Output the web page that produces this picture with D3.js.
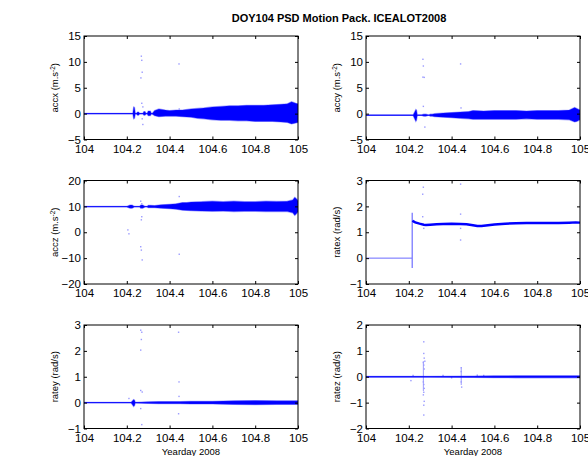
<!DOCTYPE html>
<html><head><meta charset="utf-8">
<script src="https://cdn.jsdelivr.net/npm/d3@7"></script>
<style>body{margin:0;background:#fff}svg{display:block;background:#fff}text{font-family:"Liberation Sans",Arial,sans-serif}</style>
</head><body><svg id="c" width="588" height="456"></svg>
<script>
// ---- data ----
const titleText = "DOY104 PSD Motion Pack. ICEALOT2008";
const xLabelText = "Yearday 2008";
const xTicks = [104, 104.2, 104.4, 104.6, 104.8, 105];
const xTickLabels = ["104", "104.2", "104.4", "104.6", "104.8", "105"];

// accx
const accxBase = 0;
const accxDay = [104.00,104.10,104.20,104.228,104.232,104.236,104.24,104.245,104.25,104.255,104.26,104.275,104.28,104.285,104.29,104.295,104.30,104.31,104.315,104.32,104.33,104.35,104.38,104.40,104.43,104.46,104.50,104.53,104.56,104.60,104.64,104.68,104.72,104.76,104.80,104.84,104.88,104.92,104.95,104.97,104.99,105.0];
const accxHi = [0.05,0.05,0.05,0.05,1.3,1.2,0.05,0.05,0.3,0.3,0.05,0.05,0.4,0.4,0.05,0.05,0.5,0.5,0.05,0.1,0.6,0.9,0.7,0.6,0.7,0.7,0.9,1.0,1.1,1.3,1.4,1.5,1.5,1.6,1.6,1.6,1.7,1.8,1.9,2.3,2.0,1.9];
const accxLo = [-0.05,-0.05,-0.05,-0.05,-1.0,-0.9,-0.05,-0.05,-0.3,-0.3,-0.05,-0.05,-0.3,-0.3,-0.05,-0.05,-0.4,-0.4,-0.05,-0.1,-0.4,-0.6,-0.5,-0.5,-0.5,-0.6,-0.7,-0.9,-1.0,-1.2,-1.3,-1.3,-1.4,-1.4,-1.5,-1.5,-1.5,-1.6,-1.7,-2.0,-1.8,-1.7];
const accxOutDay = [104.268,104.270,104.272,104.266,104.270,104.275,104.272,104.275,104.444,104.445];
const accxOutVal = [11.1,10.3,8.0,6.9,2.0,1.3,-1.0,-2.1,9.6,0.9];

// accy
const accyBase = -0.3;
const accyDay = [104.00,104.22,104.233,104.236,104.24,104.26,104.27,104.28,104.29,104.295,104.30,104.31,104.32,104.36,104.40,104.44,104.48,104.50,104.55,104.60,104.65,104.70,104.75,104.80,104.85,104.90,104.95,104.975,104.985,104.995,105.0];
const accyHi = [-0.25,-0.25,0.8,0.7,-0.25,-0.25,-0.1,-0.1,-0.25,-0.25,-0.1,-0.1,0.0,0.1,0.2,0.3,0.4,0.6,0.5,0.6,0.6,0.6,0.5,0.6,0.6,0.6,0.7,1.2,1.0,0.8,0.7];
const accyLo = [-0.35,-0.35,-1.5,-1.3,-0.35,-0.35,-0.5,-0.5,-0.35,-0.35,-0.5,-0.5,-0.6,-0.7,-0.8,-0.9,-1.0,-1.1,-1.1,-1.1,-1.1,-1.1,-1.0,-1.1,-1.1,-1.1,-1.2,-1.6,-1.5,-1.3,-1.2];
const accyOutDay = [104.266,104.268,104.266,104.272,104.268,104.275,104.442,104.444];
const accyOutVal = [10.5,9.2,7.05,7.0,1.4,-2.6,9.6,1.1];

// accz
const acczBase = 9.9;
const acczDay = [104.00,104.20,104.215,104.225,104.235,104.26,104.265,104.275,104.285,104.295,104.30,104.31,104.33,104.36,104.40,104.43,104.46,104.48,104.50,104.55,104.60,104.65,104.70,104.75,104.80,104.85,104.90,104.95,104.975,104.985,104.995,105.0];
const acczHi = [10.0,10.0,10.5,10.5,10.0,10.0,10.5,10.5,10.0,10.0,10.4,10.4,10.3,10.6,10.8,11.0,11.5,11.5,11.7,11.8,12.0,11.8,12.0,11.8,11.8,12.0,11.9,12.0,12.5,13.5,12.8,12.2];
const acczLo = [9.8,9.8,9.3,9.3,9.8,9.8,9.3,9.3,9.8,9.8,9.5,9.5,9.5,9.3,9.1,8.9,8.5,8.4,8.3,8.2,8.1,8.2,8.0,8.1,8.1,8.0,8.0,8.0,7.5,6.5,7.3,7.8];
const acczOutDay = [104.205,104.21,104.265,104.27,104.27,104.268,104.265,104.268,104.272,104.445,104.445];
const acczOutVal = [0.9,-0.6,12.0,11.0,6.0,4.8,-5.6,-6.9,-10.7,13.8,-8.5];

// ratex
const ratexPreDay = [104.0, 104.215];
const ratexPreVal = [0, 0];
const ratexJumpDay = 104.216;
const ratexJumpLo = -0.38;
const ratexJumpHi = 1.75;
const ratexDay = [104.217,104.222,104.23,104.25,104.27,104.28,104.30,104.33,104.36,104.40,104.44,104.47,104.50,104.52,104.54,104.57,104.60,104.65,104.70,104.75,104.80,104.85,104.90,104.95,104.98,105.0];
const ratexVal = [1.45,1.42,1.38,1.33,1.29,1.28,1.29,1.31,1.32,1.33,1.32,1.31,1.27,1.24,1.24,1.27,1.30,1.33,1.35,1.36,1.36,1.36,1.36,1.37,1.38,1.37];
const ratexOutDay = [104.265,104.268,104.265,104.27,104.442,104.442,104.442,104.442];
const ratexOutVal = [2.47,2.74,1.6,1.15,2.86,1.7,1.15,0.7];

// ratey
const rateyBase = 0;
const rateyDay = [104.00,104.22,104.232,104.236,104.24,104.30,104.35,104.40,104.45,104.50,104.60,104.70,104.80,104.90,105.0];
const rateyHi = [0.01,0.01,0.12,0.10,0.01,0.03,0.04,0.04,0.04,0.05,0.05,0.07,0.08,0.07,0.07];
const rateyLo = [-0.01,-0.01,-0.15,-0.12,-0.01,-0.03,-0.04,-0.04,-0.04,-0.05,-0.05,-0.07,-0.08,-0.07,-0.07];
const rateyOutDay = [104.265,104.27,104.268,104.265,104.265,104.272,104.265,104.27,104.442,104.444,104.444,104.442,104.21];
const rateyOutVal = [2.8,2.72,2.44,2.03,0.47,0.41,-0.23,-0.85,2.72,0.8,0.24,-0.43,0.16];

// ratez
const ratezBase = 0;
const ratezDay = [104.00,104.30,104.50,104.60,104.70,105.0];
const ratezHi = [0.015,0.02,0.025,0.035,0.04,0.04];
const ratezLo = [-0.015,-0.02,-0.025,-0.035,-0.04,-0.04];
const ratezSpikeDay = [104.268, 104.445];
const ratezSpikeLo = [-0.55, -0.32];
const ratezSpikeHi = [0.6, 0.35];
const ratezOutDay = [104.27,104.27,104.272,104.268,104.27,104.272,104.275,104.268,104.27,104.272,104.27,104.268,104.272,104.27,104.27,104.21,104.445,104.445,104.445,104.447,104.22,104.36,104.40,104.52,104.55];
const ratezOutVal = [1.35,0.9,0.72,0.55,0.45,0.3,0.6,-0.2,-0.3,-0.45,-0.6,-0.7,-0.95,-1.1,-1.48,-0.15,0.35,0.2,-0.2,-0.4,0.05,0.05,-0.04,0.06,0.05];

// ---- layout ----
const colX = [84, 366];
const rowY = [36, 180.5, 325];
const PW = 214, PH = 103.5;
const BLUE = "#0000ff";
const LIGHT = "#9a9aff";

const panels = [
  {label:"accx (m.s", sup:"-2", col:0,row:0, yDomain:[-5,15], yTicks:[-5,0,5,10,15], base:accxBase, day:accxDay, hi:accxHi, lo:accxLo, outX:accxOutDay, outY:accxOutVal},
  {label:"accy (m.s", sup:"-2", col:1,row:0, yDomain:[-5,15], yTicks:[-5,0,5,10,15], base:accyBase, day:accyDay, hi:accyHi, lo:accyLo, outX:accyOutDay, outY:accyOutVal},
  {label:"accz (m.s", sup:"-2", col:0,row:1, yDomain:[-20,20], yTicks:[-20,-10,0,10,20], base:acczBase, day:acczDay, hi:acczHi, lo:acczLo, outX:acczOutDay, outY:acczOutVal},
  {label:"ratex (rad/s)", col:1,row:1, yDomain:[-1,3], yTicks:[-1,0,1,2,3], ratex:true, outX:ratexOutDay, outY:ratexOutVal},
  {label:"ratey (rad/s)", col:0,row:2, yDomain:[-1,3], yTicks:[-1,0,1,2,3], base:rateyBase, day:rateyDay, hi:rateyHi, lo:rateyLo, outX:rateyOutDay, outY:rateyOutVal, xlab:true},
  {label:"ratez (rad/s)", col:1,row:2, yDomain:[-2,2], yTicks:[-2,-1,0,1,2], base:ratezBase, day:ratezDay, hi:ratezHi, lo:ratezLo, outX:ratezOutDay, outY:ratezOutVal, xlab:true,
   spikes:{day:ratezSpikeDay, lo:ratezSpikeLo, hi:ratezSpikeHi}}
];

const svg = d3.select("#c");
svg.append("rect").attr("width",588).attr("height",456).attr("fill","#fff");

svg.append("text").attr("x",339).attr("y",22).attr("text-anchor","middle")
  .attr("font-size","11px").attr("font-weight","bold").text(titleText);

panels.forEach((p,i) => {
  const g = svg.append("g").attr("transform",`translate(${colX[p.col]},${rowY[p.row]})`);
  const x = d3.scaleLinear().domain([104,105]).range([0,PW]);
  const y = d3.scaleLinear().domain(p.yDomain).range([PH,0]);
  const clipId = "clip"+i;
  g.append("clipPath").attr("id",clipId).append("rect").attr("width",PW).attr("height",PH);
  const plot = g.append("g").attr("clip-path",`url(#${clipId})`);

  // outliers (drawn first, light)
  const outs = p.outX.map((d,k)=>({day:d,val:p.outY[k]}));
  plot.selectAll("rect.o").data(outs).join("rect").attr("class","o")
    .attr("x",d=>x(d.day)-0.7).attr("y",d=>y(d.val)-0.7)
    .attr("width",1.4).attr("height",1.4).attr("fill",LIGHT);

  if (p.spikes) {
    p.spikes.day.forEach((d,k)=>{
      plot.append("line").attr("x1",x(d)).attr("x2",x(d))
        .attr("y1",y(p.spikes.lo[k])).attr("y2",y(p.spikes.hi[k]))
        .attr("stroke",LIGHT).attr("stroke-width",1);
    });
  }

  if (p.ratex) {
    const pre = ratexPreDay.map((d,k)=>[d,ratexPreVal[k]]);
    plot.append("path").attr("d",d3.line().x(d=>x(d[0])).y(d=>y(d[1]))(pre))
      .attr("fill","none").attr("stroke","#6a6aff").attr("stroke-width",1);
    plot.append("line").attr("x1",x(ratexJumpDay)).attr("x2",x(ratexJumpDay))
      .attr("y1",y(ratexJumpLo)).attr("y2",y(ratexJumpHi))
      .attr("stroke","#7a7aff").attr("stroke-width",1.3);
    const main = ratexDay.map((d,k)=>[d,ratexVal[k]]);
    plot.append("path").attr("d",d3.line().x(d=>x(d[0])).y(d=>y(d[1]))(main))
      .attr("fill","none").attr("stroke",BLUE).attr("stroke-width",2.4);
  } else {
    const env = p.day.map((d,k)=>({day:d,hi:p.hi[k],lo:p.lo[k]}));
    plot.append("line").attr("x1",x(104)).attr("x2",x(105))
      .attr("y1",y(p.base)).attr("y2",y(p.base))
      .attr("stroke",BLUE).attr("stroke-width",1);
    plot.append("path")
      .attr("d",d3.area().x(d=>x(d.day)).y0(d=>y(d.lo)).y1(d=>y(d.hi))(env))
      .attr("fill",BLUE).attr("stroke","rgba(40,40,255,0.4)").attr("stroke-width",1.2);
  }

  // axes (MATLAB style: ticks inside, boxed)
  const tickFont = "11.5px";
  const xb = g.append("g").attr("transform",`translate(0,${PH})`)
    .call(d3.axisBottom(x).tickValues(xTicks).tickFormat((d,k)=>xTickLabels[k]).tickSizeInner(-3).tickSizeOuter(0).tickPadding(5));
  const xt = g.append("g").call(d3.axisTop(x).tickValues(xTicks).tickFormat("").tickSizeInner(-3).tickSizeOuter(0));
  const yl = g.append("g").call(d3.axisLeft(y).tickValues(p.yTicks).tickFormat(d3.format("d")).tickSizeInner(-3).tickSizeOuter(0).tickPadding(3));
  const yr = g.append("g").attr("transform",`translate(${PW},0)`)
    .call(d3.axisRight(y).tickValues(p.yTicks).tickFormat("").tickSizeInner(-3).tickSizeOuter(0));
  [xb,xt,yl,yr].forEach(a=>{
    a.select(".domain").remove();
    a.selectAll("line").attr("stroke","#000");
    a.selectAll("text").attr("font-size",tickFont).attr("fill","#000")
      .attr("font-family",'"Liberation Sans",Arial,sans-serif');
  });
  g.append("rect").attr("width",PW).attr("height",PH).attr("fill","none")
    .attr("stroke","#000").attr("stroke-width",1);

  // y label
  const t = g.append("text").attr("transform",`translate(-26,${PH/2}) rotate(-90)`)
    .attr("text-anchor","middle").attr("font-size","9.5px").attr("fill","#000");
  t.append("tspan").text(p.label);
  if (p.sup) {
    t.append("tspan").attr("font-size","6.5px").attr("dy","-3.5").text(p.sup);
    t.append("tspan").attr("dy","3.5").text(")");
  }
  if (p.xlab) {
    g.append("text").attr("x",PW/2).attr("y",455-rowY[p.row]).attr("text-anchor","middle")
      .attr("font-size","9.5px").attr("fill","#000").text(xLabelText);
  }
});
</script></body></html>
